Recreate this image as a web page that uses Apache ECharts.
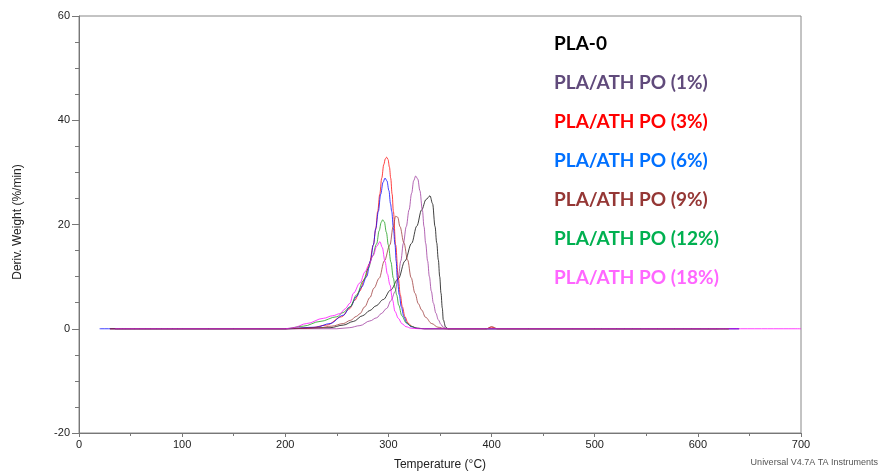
<!DOCTYPE html>
<html>
<head>
<meta charset="utf-8">
<script src="https://cdn.jsdelivr.net/npm/echarts@6/dist/echarts.min.js"></script>
<style>
  html, body { margin: 0; padding: 0; background: #fff; }
  #chart { width: 880px; height: 472px; }
</style>
</head>
<body>
<div id="chart"></div>
<script>
// DTG curves, [temperature °C, deriv. weight %/min]
var pla0 = [[30,0],[100,0],[200,0],[243.4,0.2],[256.3,0.7],[266,1.4],[275,2.5],[282,3.5],[288,4.4],[295,5.6],[302,7.4],[309.6,9.6],[316,13],[322.5,16.4],[327.5,19.7],[332.2,22.8],[336.5,24.8],[340.3,25.5],[342.8,24],[345.2,19.6],[346.8,16.5],[348.4,13.2],[349.7,10],[351,6.8],[352.2,4],[353.2,1.7],[355.5,0.3],[358,0],[500,0],[640,0]];
var po1 = [[35,0],[100,0],[200,0],[250,0],[262,0.2],[272.4,0.6],[282,1.5],[288.6,2.1],[293,2.9],[298.3,3.9],[302.5,5.4],[306.4,7.1],[309.6,10],[312,13],[314.5,16.4],[317.3,19.6],[320,22.8],[322.5,26],[324.5,28.4],[326.4,29.3],[328.5,28.7],[330.5,26.5],[332.9,22.8],[334.5,19.6],[336.1,16.4],[338,13],[339.7,10],[341.6,7.2],[343.6,4.9],[346,3],[348.4,1.7],[351,0.8],[353,0.3],[357,0],[500,0],[620,0]];
var po3 = [[30,0],[100,0],[200,0],[225,0.2],[240,0.7],[254.7,2.3],[262,3.8],[267.6,5.5],[272,7.2],[277.3,9.7],[281.5,12.5],[285.4,16.1],[287.6,19],[289.6,22.5],[291.6,25.8],[293.5,28.9],[295.5,31.5],[297,32.6],[298.3,32.9],[299.6,32.5],[301,31],[302.2,28.9],[303.6,25.8],[304.8,22.5],[307,16.1],[309.6,9.7],[311.5,6.5],[313.5,4.2],[316,2.3],[319,1.1],[323,0.4],[328,0.1],[335,0],[395,0],[400,0.3],[405,0],[520,0],[630,0]];
var po6 = [[20,0],[100,0],[200,0],[230,0.3],[243.4,1],[256.3,2.6],[263,4.2],[269.2,6.2],[274,8],[278.9,10],[282.5,13],[285.4,16.1],[287.8,19.3],[290.2,22.5],[292.5,25.8],[294.8,28.1],[296.7,28.9],[298.5,28.4],[300.5,26.5],[302,24],[303.2,22.5],[304.8,19.3],[306.4,16.1],[307.5,13],[308.6,9.7],[310.5,6.5],[312.5,4.2],[315,2.3],[318,1],[322,0.4],[328,0.1],[335,0],[500,0],[640,0]];
var po9 = [[30,0],[100,0],[200,0],[233.7,0.2],[245,0.5],[256.3,1],[263,1.6],[269.2,2.4],[272.4,2.9],[277,4.2],[282.1,6],[286,7.8],[291.1,9.7],[296,13],[301.5,16.1],[304.5,19.5],[307,21.6],[309,21.4],[311.2,19.6],[315,16.5],[318.6,13.2],[322,9.8],[325.8,6.8],[329,4.8],[332.2,3.6],[336,2.2],[341.9,1],[348,0.3],[355,0],[395,0],[400,0.4],[406,0],[520,0],[630,0]];
var po12 = [[35,0],[100,0],[200,0],[217.5,0.5],[233.7,1.4],[249.9,2.3],[256,3.1],[262.7,4.2],[269.2,6.5],[275.6,9.2],[280.5,11.6],[284.5,13.9],[288.6,16.3],[291,18.8],[293,20.4],[294.4,20.9],[296,20.5],[298,18.5],[299.9,16.1],[302.4,12.8],[304.8,9.7],[306.5,7.8],[308,6.5],[310,4.5],[313,2.5],[317,1.2],[322,0.5],[327,0.1],[335,0],[500,0],[630,0]];
var po18 = [[35,0],[100,0],[200,0],[207.8,0.2],[220.7,1],[236.9,2],[246,2.5],[253,2.9],[258,3.8],[262.7,4.9],[266,6.8],[272.4,8.8],[277.3,10.9],[280.5,12],[285.4,14.1],[288.5,15.8],[291.8,16.7],[294,15.6],[296.7,12.9],[299,10.5],[301.5,8.4],[304,5.5],[306.4,3.3],[309.6,2],[313,1],[317,0.4],[322,0.1],[330,0],[500,0],[700,0]];

var names = ["PLA-0", "PLA/ATH PO (1%)", "PLA/ATH PO (3%)", "PLA/ATH PO (6%)", "PLA/ATH PO (9%)", "PLA/ATH PO (12%)", "PLA/ATH PO (18%)"];
var curves = [pla0, po1, po3, po6, po9, po12, po18];
var lineColors = ["#000000", "#993399", "#ff0000", "#0000ff", "#993333", "#119911", "#ff00ff"];
var textColors = ["#000000", "#604a7b", "#ff0000", "#0070ff", "#953735", "#00b050", "#ff66ff"];

var chart = echarts.init(document.getElementById("chart"));

var series = [];
for (var i = 0; i < curves.length; i++) {
  series.push({
    name: names[i],
    type: "line",
    data: curves[i],
    smooth: 0.35,
    smoothMonotone: "x",
    showSymbol: false,
    lineStyle: { width: 1, color: lineColors[i], opacity: 0.75 },
    itemStyle: { color: lineColors[i] }
  });
}

var legendData = names.map(function (n, i) {
  return { name: n, textStyle: { color: textColors[i] } };
});

chart.setOption({
  animation: false,
  backgroundColor: "#fff",
  grid: {
    left: 79, right: 79, top: 16, bottom: 39,
    outerBoundsMode: "none",
    show: true, borderColor: "#888", borderWidth: 1
  },
  legend: {
    data: legendData,
    orient: "vertical",
    left: 548,
    top: 33,
    padding: 0,
    itemWidth: 0,
    itemHeight: 0,
    itemGap: 17,
    selectedMode: false,
    textStyle: { fontFamily: "Lato", fontWeight: "bold", fontSize: 19, lineHeight: 22 }
  },
  xAxis: {
    type: "value",
    min: 0, max: 700, interval: 100,
    name: "Temperature (°C)",
    nameLocation: "middle",
    nameGap: 26,
    nameTextStyle: { fontFamily: "Liberation Sans", fontSize: 12, color: "#222" },
    axisLine: { onZero: false, lineStyle: { color: "#777" } },
    axisTick: { length: 4, lineStyle: { color: "#777" } },
    minorTick: { show: true, splitNumber: 2, length: 3, lineStyle: { color: "#777" } },
    splitLine: { show: false },
    axisLabel: { fontFamily: "Liberation Sans", fontSize: 11, color: "#222", margin: 6 }
  },
  yAxis: {
    type: "value",
    min: -20, max: 60, interval: 20,
    axisLine: { show: true, lineStyle: { color: "#777" } },
    axisTick: { show: true, length: 7, lineStyle: { color: "#777" } },
    minorTick: { show: true, splitNumber: 4, length: 4, lineStyle: { color: "#777" } },
    splitLine: { show: false },
    axisLabel: { fontFamily: "Liberation Sans", fontSize: 11, color: "#222", margin: 9 }
  },
  graphic: [
    {
      type: "text",
      x: 18, y: 222,
      rotation: Math.PI / 2,
      style: {
        text: "Deriv. Weight (%/min)",
        font: "12px 'Liberation Sans'",
        fill: "#222",
        align: "center",
        verticalAlign: "middle"
      }
    },
    {
      type: "text",
      right: 2, top: 458,
      style: {
        text: "Universal V4.7A TA Instruments",
        font: "9px 'Liberation Sans'",
        fill: "#555"
      }
    }
  ],
  series: series
});
</script>
</body>
</html>
